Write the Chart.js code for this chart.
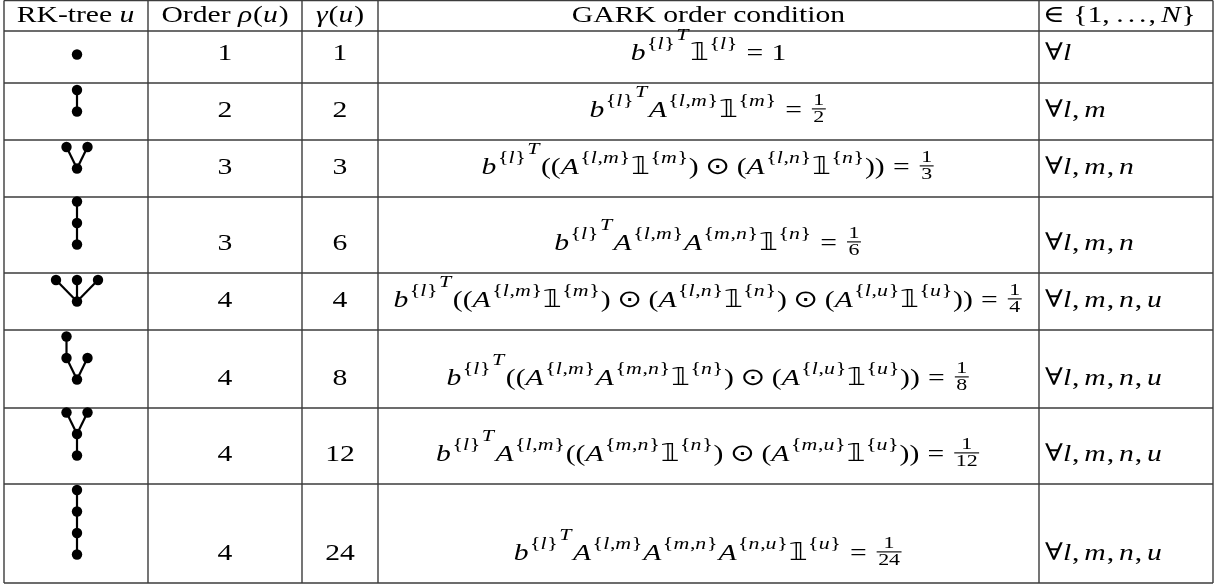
<!DOCTYPE html>
<html>
<head>
<meta charset="utf-8">
<script src="https://cdn.jsdelivr.net/npm/chart.js@4.4.1/dist/chart.umd.min.js"></script>
<style>
  html, body { margin: 0; padding: 0; background: #fff; }
  #wrap { width: 1221px; height: 585px; }
</style>
</head>
<body>
<div id="wrap"><canvas id="table" width="1221" height="585"></canvas></div>
<script>
"use strict";

// ---- data ----
// trees given as parent index lists (root = -1)
const TREES = [
  [-1],
  [-1, 0],
  [-1, 0, 0],
  [-1, 0, 1],
  [-1, 0, 0, 0],
  [-1, 0, 0, 1],
  [-1, 0, 1, 1],
  [-1, 0, 1, 2],
];
const ORDERS = ["1", "2", "3", "3", "4", "4", "4", "4"];
const GAMMAS = ["1", "2", "3", "6", "4", "8", "12", "24"];
// ^[..] superscript group, @a/b@ fraction
const CONDITIONS = [
  "b^[{l}]^[T]𝟙^[{l}]=1",
  "b^[{l}]^[T]A^[{l,m}]𝟙^[{m}]=@1/2@",
  "b^[{l}]^[T]((A^[{l,m}]𝟙^[{m}])⊙(A^[{l,n}]𝟙^[{n}]))=@1/3@",
  "b^[{l}]^[T]A^[{l,m}]A^[{m,n}]𝟙^[{n}]=@1/6@",
  "b^[{l}]^[T]((A^[{l,m}]𝟙^[{m}])⊙(A^[{l,n}]𝟙^[{n}])⊙(A^[{l,u}]𝟙^[{u}]))=@1/4@",
  "b^[{l}]^[T]((A^[{l,m}]A^[{m,n}]𝟙^[{n}])⊙(A^[{l,u}]𝟙^[{u}]))=@1/8@",
  "b^[{l}]^[T]A^[{l,m}]((A^[{m,n}]𝟙^[{n}])⊙(A^[{m,u}]𝟙^[{u}]))=@1/12@",
  "b^[{l}]^[T]A^[{l,m}]A^[{m,n}]A^[{n,u}]𝟙^[{u}]=@1/24@",
];
const RANGES = ["∀l", "∀l,m", "∀l,m,n", "∀l,m,n", "∀l,m,n,u", "∀l,m,n,u", "∀l,m,n,u", "∀l,m,n,u"];
const HEADERS = ["RK-tree $u$", "Order $ρ(u)$", "$γ(u)$", "GARK order condition", "$∈{1,…,N}$"];

// ---- layout ----
const W = 1221, H = 585;
const COL_X = [4, 148, 302, 378, 1039, 1213];
const ROW_Y = [0.5, 31, 83, 140, 197, 273, 330, 408, 484, 583];
const MID_ABOVE_BOTTOM = 28.5;
const NODE_DX = 21, NODE_DY = 21.5, NODE_R = 5.2;
const FS = 24;
const SCRIPT = 0.74;
const HEADER_BASE = 21.5;
const BASE_BELOW_MID = 5.5;
const WIDEST_CONDITION_PX = 630;
const SERIF = '"Liberation Serif", "DejaVu Serif", serif';
const BBFONT = '"DejaVu Sans", "DejaVu Serif", sans-serif';

function rowMid(r) { return ROW_Y[r + 2] - MID_ABOVE_BOTTOM; }

// tree nodes in table coordinates
function treeNodes(parents, r) {
  const cx = (COL_X[0] + COL_X[1]) / 2 + 1;
  const kids = parents.map(() => []);
  parents.forEach((p, i) => { if (p >= 0) kids[p].push(i); });
  const pos = [];
  pos[0] = { dx: 0, lv: 0 };
  const walk = (i) => {
    const k = kids[i];
    k.forEach((c, j) => {
      pos[c] = { dx: pos[i].dx + (j - (k.length - 1) / 2), lv: pos[i].lv + 1 };
      walk(c);
    });
  };
  walk(0);
  return pos.map((p) => ({ x: cx + p.dx * NODE_DX, y: rowMid(r) - p.lv * NODE_DY }));
}

const datasets = [];
const allNodes = [];
TREES.forEach((parents, r) => {
  const nodes = treeNodes(parents, r);
  parents.forEach((p, i) => {
    if (p < 0) return;
    datasets.push({
      data: [nodes[p], nodes[i]],
      showLine: true,
      borderColor: "#000",
      borderWidth: 2.2,
      pointRadius: 0,
      order: 2,
    });
  });
  allNodes.push(...nodes);
});
datasets.push({
  data: allNodes,
  pointRadius: NODE_R,
  pointBackgroundColor: "#000",
  pointBorderWidth: 0,
  order: 1,
});

// ---- tiny math typesetter ----
function fontOf(kind, size) {
  if (kind === "i") return "italic " + size + "px " + SERIF;
  if (kind === "bb") return size + "px " + BBFONT;
  return size + "px " + SERIF;
}
function classOf(c) {
  if (c === "=" || c === "∈") return "rel";
  if (c === "⊙") return "bin";
  if (c === "(" || c === "{") return "open";
  if (c === ")" || c === "}") return "close";
  if (c === ",") return "punct";
  if (c === "…") return "inner";
  return "ord";
}
function kindOf(c) {
  if (/[A-Za-zργ]/.test(c)) return "i";
  if (c === "𝟙" || c === "⊙") return "bb";
  return "r";
}
function gap(a, b, script) {
  if (!a || script) return 0;
  if (a === "punct") return 3;
  if (a === "rel" || b === "rel") return 5;
  if (a === "bin" || b === "bin") return 4;
  if (a === "inner" || b === "inner") return 3;
  return 0;
}

function typeset(ctx, src, size, script) {
  const ops = [];
  const ch = Array.from(src);
  let x = 0, prev = null, supLevel = 0;
  for (let i = 0; i < ch.length; i++) {
    const c = ch[i];
    if (c === " ") continue;
    if (c === "^") {
      let grp;
      if (ch[i + 1] === "[") {
        const j = ch.indexOf("]", i + 2);
        grp = ch.slice(i + 2, j).join("");
        i = j;
      } else { grp = ch[i + 1]; i++; }
      const sub = typeset(ctx, grp, size * SCRIPT, true);
      supLevel++;
      const raise = size * (supLevel === 1 ? 0.45 : 0.82);
      const x0 = x + size * 0.02;
      sub.ops.forEach((o) => ops.push(Object.assign({}, o, { x: o.x + x0, y: o.y - raise })));
      x = x0 + sub.w + size * 0.03;
      continue;
    }
    supLevel = 0;
    if (c === "@") {
      const j = ch.indexOf("@", i + 1);
      const [n, d] = ch.slice(i + 1, j).join("").split("/");
      i = j;
      const fs = size * SCRIPT;
      const N = typeset(ctx, n, fs, true), D = typeset(ctx, d, fs, true);
      x += gap(prev, "ord", script) * size / 18;
      const pad = size * 0.06;
      const bw = Math.max(N.w, D.w) + size * 0.1;
      const bar = size * 0.34;
      ops.push({ t: "rule", x: x + pad, y: -bar - 0.5, w: bw, h: 1.1 });
      N.ops.forEach((o) => ops.push(Object.assign({}, o, { x: o.x + x + pad + (bw - N.w) / 2, y: -size * 0.5 })));
      D.ops.forEach((o) => ops.push(Object.assign({}, o, { x: o.x + x + pad + (bw - D.w) / 2, y: size * 0.2 })));
      x += bw + 2 * pad;
      prev = "ord";
      continue;
    }
    const cls = classOf(c);
    x += gap(prev, cls, script) * size / 18;
    if (c === "…") {
      const f = fontOf("r", size);
      for (let k = 0; k < 3; k++) ops.push({ t: "text", text: ".", font: f, x: x + size * (0.06 + k * 0.38), y: 0 });
      x += size * 0.98;
      prev = cls;
      continue;
    }
    const font = fontOf(kindOf(c), size);
    ctx.font = font;
    ops.push({ t: "text", text: c, font, x, y: 0 });
    x += ctx.measureText(c).width;
    if (kindOf(c) === "i") x += size * 0.03;
    prev = cls;
  }
  return { ops, w: x };
}

// text with $..$ math pieces
function typesetMixed(ctx, src, size) {
  const parts = src.split("$");
  const ops = [];
  let x = 0;
  parts.forEach((p, k) => {
    if (!p) return;
    if (k % 2 === 0) {
      const font = fontOf("r", size);
      ctx.font = font;
      ops.push({ t: "text", text: p, font, x, y: 0 });
      x += ctx.measureText(p).width;
    } else {
      const m = typeset(ctx, p, size, false);
      m.ops.forEach((o) => ops.push(Object.assign({}, o, { x: o.x + x })));
      x += m.w;
    }
  });
  return { ops, w: x };
}

function drawLay(ctx, lay, left, base, sx) {
  ctx.save();
  ctx.translate(left, base);
  ctx.scale(sx, 1);
  ctx.fillStyle = "#000";
  ctx.textAlign = "left";
  ctx.textBaseline = "alphabetic";
  lay.ops.forEach((o) => {
    if (o.t === "rule") ctx.fillRect(o.x, o.y, o.w, o.h);
    else { ctx.font = o.font; ctx.fillText(o.text, o.x, o.y); }
  });
  ctx.restore();
}

const tablePlugin = {
  id: "tablePlugin",
  beforeDatasetsDraw(chart) {
    const ctx = chart.ctx, xs = chart.scales.x, ys = chart.scales.y;
    ctx.save();
    ctx.strokeStyle = "#3c3c3c";
    ctx.lineWidth = 1.4;
    ctx.beginPath();
    COL_X.forEach((v) => {
      ctx.moveTo(xs.getPixelForValue(v), ys.getPixelForValue(ROW_Y[0]));
      ctx.lineTo(xs.getPixelForValue(v), ys.getPixelForValue(ROW_Y[ROW_Y.length - 1]));
    });
    ROW_Y.forEach((v) => {
      ctx.moveTo(xs.getPixelForValue(COL_X[0]), ys.getPixelForValue(v));
      ctx.lineTo(xs.getPixelForValue(COL_X[COL_X.length - 1]), ys.getPixelForValue(v));
    });
    ctx.stroke();
    ctx.restore();
  },
  afterDatasetsDraw(chart) {
    const ctx = chart.ctx, xs = chart.scales.x, ys = chart.scales.y;
    const sx = WIDEST_CONDITION_PX / Math.max(...CONDITIONS.map((c) => typeset(ctx, c, FS, false).w));
    const centre = (c) => xs.getPixelForValue((COL_X[c] + COL_X[c + 1]) / 2);
    const leftPad = xs.getPixelForValue(COL_X[4] + 6);

    HEADERS.forEach((h, c) => {
      const lay = typesetMixed(ctx, h, FS);
      const left = c === 4 ? xs.getPixelForValue(COL_X[4] + 4) : centre(c) - lay.w * sx / 2;
      drawLay(ctx, lay, left, ys.getPixelForValue(HEADER_BASE), sx);
    });

    for (let r = 0; r < TREES.length; r++) {
      const base = ys.getPixelForValue(rowMid(r) + BASE_BELOW_MID);
      const cells = [
        [1, typesetMixed(ctx, ORDERS[r], FS)],
        [2, typesetMixed(ctx, GAMMAS[r], FS)],
        [3, typeset(ctx, CONDITIONS[r], FS, false)],
      ];
      cells.forEach(([c, lay]) => drawLay(ctx, lay, centre(c) - lay.w * sx / 2, base, sx));
      drawLay(ctx, typeset(ctx, RANGES[r], FS, false), leftPad, base, sx);
    }
  },
};

new Chart(document.getElementById("table").getContext("2d"), {
  type: "scatter",
  data: { datasets },
  options: {
    responsive: false,
    animation: false,
    events: [],
    layout: { padding: 0, autoPadding: false },
    plugins: { legend: { display: false }, tooltip: { enabled: false } },
    scales: {
      x: { type: "linear", min: 0, max: W, display: false },
      y: { type: "linear", min: 0, max: H, reverse: true, display: false },
    },
  },
  plugins: [tablePlugin],
});
</script>
</body>
</html>
